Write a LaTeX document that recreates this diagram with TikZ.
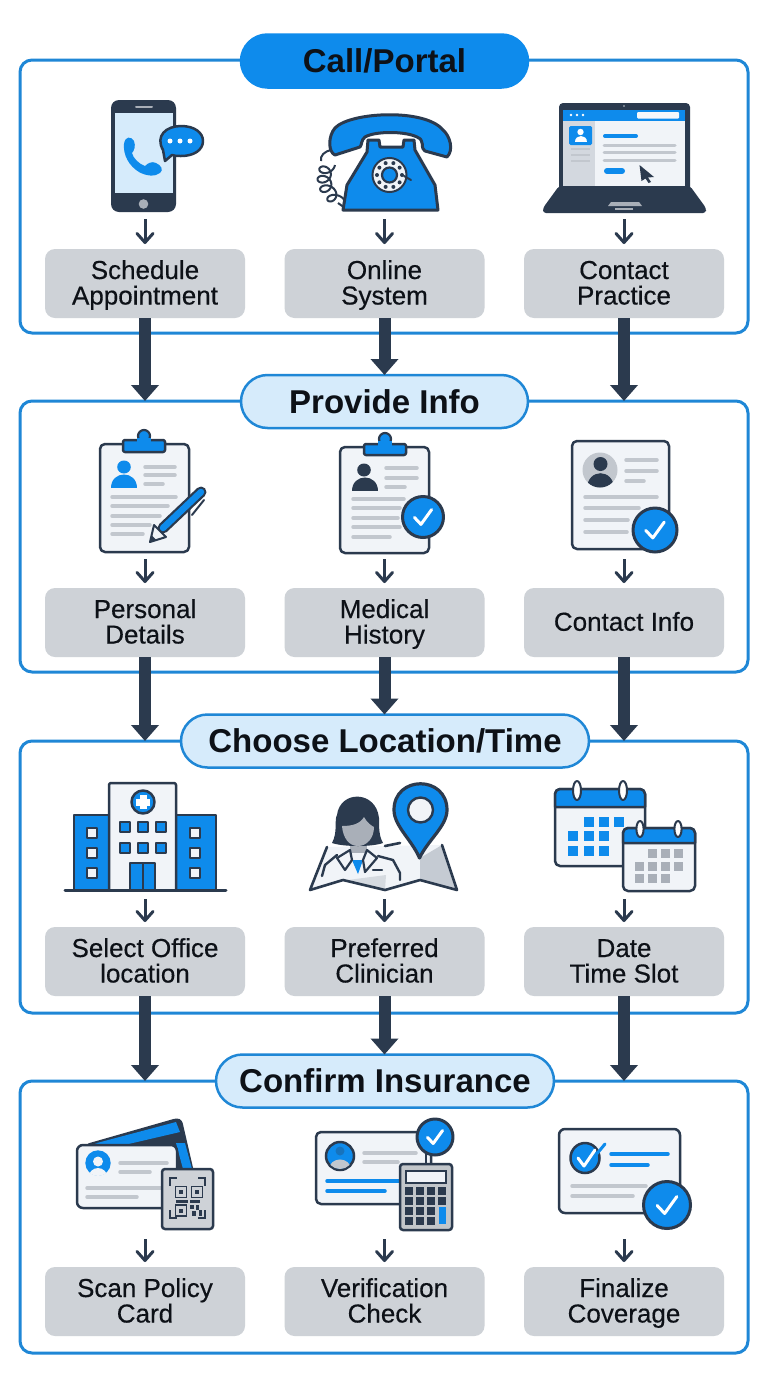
\documentclass[tikz,border=0pt]{standalone}
\usepackage{fontspec}
\setmainfont{Liberation Sans}
\newfontfamily\labf[FakeBold=0.4]{Liberation Sans}
\usetikzlibrary{arrows.meta}
\definecolor{dark}{HTML}{2B3A4E}
\definecolor{mblue}{HTML}{0E8BEC}
\definecolor{frameb}{HTML}{1F87D6}
\definecolor{pale}{HTML}{D6EBFB}
\definecolor{paper}{HTML}{F1F4F8}
\definecolor{gbox}{HTML}{CED2D7}
\definecolor{gline}{HTML}{C2C7CE}
\definecolor{ink}{HTML}{0D1117}
\definecolor{fgrey}{HTML}{A9AFB8}
\tikzset{
 panel/.style={draw=frameb,line width=3pt,rounded corners=12pt,inner sep=0pt,outer sep=0pt,fill=white},
 pill/.style={draw=frameb,line width=2.5pt,rounded corners=26.5pt,inner sep=0pt,outer sep=0pt,minimum height=53pt,fill=pale,text=ink,font=\fontsize{33}{36}\selectfont\bfseries},
 pillon/.style={pill,fill=mblue,draw=mblue},
 lab/.style={fill=gbox,rounded corners=10pt,inner sep=0pt,outer sep=0pt,minimum width=200pt,minimum height=69pt,text=ink,align=center,font=\labf\fontsize{26}{25.5}\selectfont},
 big/.style={draw=dark,line width=12pt,-{Triangle[width=27pt,length=16pt]}},
 small/.style={draw=dark,line width=3pt,-{Straight Barb[width=16pt,length=9pt,round]},shorten >=5pt},
 glin/.style={draw=gline,line width=3.5pt,line cap=round},
 blin/.style={draw=mblue,line width=3.5pt,line cap=round},
 ic/.style={draw=dark,line width=2.5pt,line join=round},
}
\newcommand\lbl[1]{\rule[-1.5pt]{0pt}{19.5pt}\smash{#1}}
\newcommand\gl[3]{\draw[glin] (#1,#3) -- (#2,#3);}
\newcommand\bl[3]{\draw[blin] (#1,#3) -- (#2,#3);}
\newcommand\badge[3]{\draw[ic,line width=3pt,fill=mblue] (#1,#2) circle[radius=#3];
 \draw[white,line width=3pt,line cap=round,line join=round] ({#1-.42*#3},{#2+.02*#3}) -- ({#1-.1*#3},{#2+.36*#3}) -- ({#1+.42*#3},{#2-.36*#3});}
% person: colour, cx, head y, head r, body half width, body top, body bottom
\newcommand\persn[7]{\fill[#1] (#2,#3) circle[radius=#4];
 \fill[#1] ({#2-#5},#7) .. controls ({#2-#5},#6) and ({#2+#5},#6) .. ({#2+#5},#7) -- cycle;}
\newcommand\sq[4]{\fill[#1] ({#2-#4/2},{#3-#4/2}) rectangle ({#2+#4/2},{#3+#4/2});}
\newcommand\bsq[4]{\draw[ic,line width=2pt,fill=#1] ({#2-#4/2},{#3-#4/2}) rectangle ({#2+#4/2},{#3+#4/2});}
\begin{document}
\begin{tikzpicture}[x=1pt,y=-1pt]
\useasboundingbox (0,0) rectangle (768,1376);
\fill[white] (0,0) rectangle (768,1376);
% panels
\node[panel,minimum width=728pt,minimum height=273pt] (p1) at (384,196.5) {};
\node[panel,minimum width=728pt,minimum height=271pt] (p2) at (384,536.5) {};
\node[panel,minimum width=728pt,minimum height=272pt] (p3) at (384,877) {};
\node[panel,minimum width=728pt,minimum height=272pt] (p4) at (384,1217) {};
% titles
\node[pillon,minimum width=287pt] (t1) at (384.5,61) {Call/Portal};
\node[pill,minimum width=287pt] (t2) at (384.5,401.5) {Provide Info};
\node[pill,minimum width=408pt] (t3) at (385,741) {Choose Location/Time};
\node[pill,minimum width=338pt] (t4) at (385,1081) {Confirm Insurance};
% labels
\node[lab] (b11) at (145,283.5) {\lbl{Schedule}\\\lbl{Appointment}};
\node[lab] (b12) at (384.5,283.5) {\lbl{Online}\\\lbl{System}};
\node[lab] (b13) at (624,283.5) {\lbl{Contact}\\\lbl{Practice}};
\node[lab] (b21) at (145,622.5) {\lbl{Personal}\\\lbl{Details}};
\node[lab] (b22) at (384.5,622.5) {\lbl{Medical}\\\lbl{History}};
\node[lab] (b23) at (624,622.5) {\lbl{Contact Info}};
\node[lab] (b31) at (145,961.5) {\lbl{Select Office}\\\lbl{location}};
\node[lab] (b32) at (384.5,961.5) {\lbl{Preferred}\\\lbl{Clinician}};
\node[lab] (b33) at (624,961.5) {\lbl{Date}\\\lbl{Time Slot}};
\node[lab] (b41) at (145,1301.5) {\lbl{Scan Policy}\\\lbl{Card}};
\node[lab] (b42) at (384.5,1301.5) {\lbl{Verification}\\\lbl{Check}};
\node[lab] (b43) at (624,1301.5) {\lbl{Finalize}\\\lbl{Coverage}};
% icon anchor points
\foreach \r/\y in {1/219,2/559,3/899,4/1239}{
 \coordinate (i\r1) at (145,\y); \coordinate (i\r2) at (384.5,\y); \coordinate (i\r3) at (624,\y);
 \draw[small] (i\r1) -- (b\r1.north); \draw[small] (i\r2) -- (b\r2.north); \draw[small] (i\r3) -- (b\r3.north);
}
% big connectors
\foreach \a/\b in {1/2,2/3,3/4}{
 \draw[big] (b\a1.south) -- (b\a1.south |- p\b.north);
 \draw[big] (b\a2.south) -- (b\a2.south |- t\b.north);
 \draw[big] (b\a3.south) -- (b\a3.south |- p\b.north);
}
% ---------- phone
\fill[dark,rounded corners=8pt] (111,100) rectangle (176,212);
\fill[pale] (115,113) rectangle (172.5,193);
\draw[fgrey,line width=2pt,line cap=round] (136,107) -- (152,107);
\fill[fgrey] (143.5,204) circle[radius=4.8];
\fill[mblue] (124,144) .. controls (125,136) and (131,136) .. (134,141) .. controls (136,146) and (134,151) .. (132,153) .. controls (133,158) and (139,164) .. (145,166) .. controls (148,163) and (152,161) .. (156,163) .. controls (161,165) and (164,170) .. (160,173) .. controls (155,177) and (146,176) .. (139,172) .. controls (129,166) and (123,155) .. (124,144) -- cycle;
\draw[ic,fill=mblue] (163,150) .. controls (155,136) and (166,126) .. (181,126) .. controls (195,126) and (203,133) .. (203,141) .. controls (203,150) and (194,156) .. (181,156) .. controls (177,156) and (174,156) .. (172,155) -- (165,161) -- cycle;
\foreach \x in {170,180,190}{\fill[white] (\x,141) circle[radius=2.5];}
% ---------- telephone
\draw[dark,line width=2pt] plot[domain=0:1440,samples=161,smooth] ({324+36*((\x/1440-.35)*(\x/1440-.35))+6.5*cos(\x)},{165+\x/38+5.5*sin(\x)});
\draw[dark,line width=2pt] (332,150) .. controls (324,151) and (320,156) .. (321,161);
\draw[dark,line width=2pt] (338,203) -- (345,208);
\draw[ic,line width=3pt,fill=mblue] (368,140) -- (379,140) -- (380,147) -- (403,147) -- (404,140) -- (414,140) -- (415,150) -- (435,185) -- (438,210) -- (343,210) -- (347,185) -- (367,152) -- cycle;
\draw[ic,line width=3pt,fill=mblue] (335,155) .. controls (328,152) and (328,136) .. (335,128) .. controls (350,112) and (425,108) .. (443,130) .. controls (450,136) and (454,150) .. (447,157) -- (425,151) .. controls (421,148) and (423,144) .. (422,143) .. controls (421,139) and (420,138) .. (417,137) .. controls (405,131) and (375,131) .. (365,137) .. controls (361,140) and (362,145) .. (360,147) -- cycle;
\draw[dark,line width=2pt,fill=paper] (389.5,175) circle[radius=17];
\foreach \a in {0,36,...,324}{\fill[dark] ({389.5+12.5*cos(\a)},{175+12.5*sin(\a)}) circle[radius=2];}
\draw[dark,line width=2.2pt,fill=mblue] (389.5,175) circle[radius=7.5];
\draw[dark,line width=2pt,line cap=round] (404,176) -- (411,180);
% ---------- laptop
\fill[dark,rounded corners=4pt] (559,103) rectangle (690,195);
\fill[paper] (563,110) rectangle (685,186);
\fill[mblue] (563,110) rectangle (685,121);
\foreach \x in {571,577,583}{\fill[white] (\x,115) circle[radius=1.4];}
\fill[paper!70!white,rounded corners=1pt] (637,112) rectangle (679,118.5);
\fill[dark!15!paper] (563,121) rectangle (595,186);
\fill[mblue,rounded corners=1.5pt] (569,126) rectangle (592,145);
\persn{white}{580.5}{132}{3.2}{6}{134}{142}
\foreach \y in {149,155,161}{\draw[gline,line width=2.5pt] (571,\y) -- (590,\y);}
\draw[mblue,line width=4pt,line cap=round] (605,136) -- (636,136);
\foreach \y in {145,152,160}{\draw[gline,line width=3pt,line cap=round] (604,\y) -- (675,\y);}
\draw[mblue,line width=6pt,line cap=round] (607,171) -- (622,171);
\fill[dark] (639.5,165) -- (654,177) -- (648,177.5) -- (651,182) -- (648.5,183) -- (645.5,178.5) -- (641.5,181) -- cycle;
\fill[dark,rounded corners=3pt] (559,186) -- (690,186) -- (706,208) -- (706,213) -- (543,213) -- (543,208) -- cycle;
\fill[fgrey] (611,202) -- (639,202) -- (642,206) -- (608,206) -- cycle;
\draw[fgrey,line width=1.2pt] (615,209) -- (633,209);
\fill[gline] (624,106) circle[radius=.9];
% ---------- clipboard 1
\draw[ic,fill=paper,rounded corners=5pt] (100,444) rectangle (189,552);
\fill[mblue,draw=dark,line width=2.2pt] (144,436) circle[radius=6];
\draw[ic,fill=mblue,rounded corners=2pt] (123,440) rectangle (165,452);
\fill[mblue] (137,438) rectangle (151,443);
\fill[mblue] (124,467) ellipse[x radius=6.8,y radius=6.5];
\fill[mblue] (111,488) .. controls (111,470) and (137,470) .. (137,488) -- cycle;
\gl{145}{175}{467} \gl{145}{175}{475} \gl{145}{163}{484}
\gl{112}{176}{497} \gl{112}{168}{506} \gl{112}{160}{516} \gl{112}{150}{525} \gl{112}{143}{534}
\draw[dark,line width=11pt,line cap=round] (163,528) -- (201,492);
\draw[mblue,line width=6.5pt,line cap=round] (163,528) -- (201,492);
\draw[ic,line width=2pt,fill=paper] (150,542) -- (154,525) -- (166,537) -- cycle;
\fill[dark] (150,542) -- (151.5,535) -- (156.5,540) -- cycle;
\draw[dark,line width=2pt,line cap=round] (204,500) -- (192,515);
% ---------- clipboard 2
\draw[ic,fill=paper,rounded corners=5pt] (340,447) rectangle (429,553);
\fill[mblue,draw=dark,line width=2.2pt] (385,439) circle[radius=6];
\draw[ic,fill=mblue,rounded corners=2pt] (364,444) rectangle (406,455);
\fill[mblue] (378,441) rectangle (392,446);
\fill[dark] (364,470) ellipse[x radius=6.8,y radius=6.5];
\fill[dark] (352,491) .. controls (352,473) and (378,473) .. (378,491) -- cycle;
\gl{386}{417}{468} \gl{386}{417}{478} \gl{386}{405}{487}
\gl{353}{404}{499} \gl{353}{400}{508} \gl{353}{398}{518} \gl{353}{400}{527} \gl{353}{390}{537}
\badge{423}{517}{20.5}
% ---------- doc 3
\draw[ic,fill=paper,rounded corners=5pt] (572,441) rectangle (669,549);
\fill[gline] (600,470) circle[radius=17.5];
\begin{scope}
\clip (600,470) circle[radius=17.5];
\fill[dark] (600.5,464) circle[radius=7];
\fill[dark] (587,489) .. controls (587,468) and (614,468) .. (614,489) -- cycle;
\end{scope}
\gl{626}{657}{460} \gl{626}{657}{471} \gl{626}{644}{481}
\gl{585}{657}{497} \gl{585}{639}{508} \gl{585}{628}{520} \gl{585}{627}{532}
\badge{655}{530}{22}
% ---------- hospital
\draw[ic,fill=mblue] (74,890) rectangle (110,815);
\draw[ic,fill=mblue] (175,890) rectangle (216,815);
\draw[ic,fill=paper,rounded corners=2pt] (109,890) -- (109,783) -- (176,783) -- (176,890);
\draw[ic,fill=mblue] (143,802) circle[radius=11.5];
\fill[white] (139.5,795) rectangle (146.5,809); \fill[white] (136,798.5) rectangle (150,805.5);
\foreach \x in {124.5,142.5,160.5}{\foreach \y in {827,848}{\bsq{mblue}{\x}{\y}{10}}}
\foreach \x in {92,195}{\foreach \y in {833,853,873}{\bsq{paper}{\x}{\y}{10}}}
\draw[ic,fill=mblue] (130,890) rectangle (155,863);
\draw[dark,line width=2pt] (142.5,863) -- (142.5,890);
\draw[dark,line width=3pt,line cap=round] (65,890) -- (226,890);
% ---------- clinician + map
\fill[paper] (310,890) -- (327,847) -- (442,845) -- (457,890) -- (420,880) -- (385,890) -- (343,880) -- cycle;
\fill[dark!22!paper] (420,858) -- (442,845) -- (457,890) -- (420,880) -- cycle;
\fill[dark!14!paper] (348,880) -- (386,875) -- (385,890) -- cycle;
\draw[ic,line width=2.6pt,line cap=round] (327,847) -- (310,890) -- (343,880) -- (385,890) -- (420,880) -- (457,890) -- (442,845);
\draw[dark,line width=2.6pt,line cap=round] (385,846) -- (400,843);
\draw[dark,line width=2.4pt,line join=round,line cap=round] (322,876) -- (325,865) -- (337,855);
\draw[dark,line width=2.4pt,line join=round,line cap=round] (378,856) -- (393,860) -- (400,873) -- (400,880);
\fill[fgrey] (350,842) rectangle (367,853);
\fill[mblue] (352,860) -- (363,860) -- (358,874) -- cycle;
\draw[dark,line width=2.2pt,line join=round,fill=paper] (350,850) -- (337,858) -- (345,870) -- (352,860) -- cycle;
\draw[dark,line width=2.2pt,line join=round,fill=paper] (367,850) -- (377,858) -- (365,872) -- (363,860) -- cycle;
\fill[dark] (332,843) .. controls (338,832) and (334,820) .. (337,815) .. controls (340,790) and (376,790) .. (379,818) .. controls (379,828) and (379,836) .. (383,843) .. controls (372,847) and (344,847) .. (332,843) -- cycle;
\fill[fgrey] (358,846) .. controls (349,846) and (343,838) .. (342,826) .. controls (352,826) and (360,824) .. (364,817) .. controls (367,823) and (372,826) .. (374,827) .. controls (374,838) and (367,846) .. (358,846) -- cycle;
\draw[dark,line width=2.2pt,line cap=round] (373,870) -- (382,870);
\draw[ic,line width=3.2pt,fill=mblue] (419.5,858) .. controls (412,840) and (394,826) .. (394,810) .. controls (394,775) and (447,775) .. (447,810) .. controls (447,826) and (428,840) .. (419.5,858) -- cycle;
\draw[dark,line width=2.4pt,fill=paper] (420.5,810) circle[radius=12.5];
% ---------- calendars
\draw[ic,fill=paper,rounded corners=5pt] (555,789) rectangle (645,866);
\draw[ic,fill=mblue] (555,807) -- (555,794) [rounded corners=5pt] -- (555,789) -- (645,789) [sharp corners] -- (645,807) -- cycle;
\foreach \x in {577,623}{\draw[ic,line width=2pt,fill=white] (\x,790.5) ellipse[x radius=4,y radius=9.5];}
\foreach \x/\y in {589/822,604/822,619/822,573/836,589/836,604/836,573/851,589/851,604/851}{\sq{mblue}{\x}{\y}{10.5}}
\draw[ic,fill=paper,rounded corners=5pt] (623,828) rectangle (695,891);
\draw[ic,fill=mblue] (623,843) -- (623,833) [rounded corners=5pt] -- (623,828) -- (695,828) [sharp corners] -- (695,843) -- cycle;
\foreach \x in {640,678}{\draw[ic,line width=2pt,fill=white] (\x,829) ellipse[x radius=3.6,y radius=8];}
\foreach \x/\y in {652/853,665/853,678/853,639/866,652/866,665/866,678/866,639/878,652/878,665/878}{\sq{fgrey}{\x}{\y}{9}}
% ---------- insurance cards + QR
\fill[dark,rounded corners=3pt] (86,1144) -- (177,1118) -- (182,1120) -- (194,1172) -- (150,1175) -- cycle;
\fill[mblue] (95,1143.5) -- (176,1122) -- (180,1132) -- (120,1146) -- cycle;
\fill[mblue] (176,1143) -- (185,1143) -- (192,1169) -- (183,1169) -- cycle;
\draw[ic,fill=paper,rounded corners=6pt] (77,1145) rectangle (177,1208);
\fill[mblue] (98,1163) circle[radius=12.7];
\begin{scope}
\clip (98,1163) circle[radius=13];
\persn{paper}{98}{1161.5}{5}{10}{1164}{1180}
\end{scope}
\gl{120}{167}{1163} \gl{120}{150}{1172} \gl{87}{161}{1188} \gl{87}{137}{1197}
\draw[ic,fill=gbox,rounded corners=3pt] (162,1169) rectangle (213,1229);
\begin{scope}[dark,line width=1.6pt]
\draw (170,1186) -- (170,1178) -- (177,1178);
\draw (198,1178) -- (205,1178) -- (205,1186);
\draw (170,1210) -- (170,1218) -- (177,1218);
\draw (198,1218) -- (205,1218) -- (205,1210);
\draw (175.5,1186.5) rectangle (186.5,1197.5);
\draw (191.5,1186.5) rectangle (202.5,1197.5);
\draw (175.5,1205) rectangle (186.5,1216);
\fill (179,1190) rectangle (183,1194);
\fill (195,1190) rectangle (199,1194);
\fill (179,1208.5) rectangle (183,1212.5);
\fill (176,1200) rectangle (188,1202.5); \fill (190,1200) rectangle (200,1202.5);
\fill (190,1205) rectangle (194,1209); \fill (196,1205) rectangle (199,1210);
\fill (192,1211) rectangle (196,1216); \fill (199,1210) rectangle (202,1216);
\end{scope}
% ---------- card + calculator
\draw[ic,fill=paper,rounded corners=5pt] (316,1132) rectangle (431,1204);
\draw[dark,line width=2.5pt,fill=mblue] (340,1156) circle[radius=14];
\begin{scope}
\clip (340,1156) circle[radius=13];
\fill[gline] (329,1170) .. controls (329,1156) and (351,1156) .. (351,1170) -- cycle;
\end{scope}
\fill[mblue!70!dark] (340,1151) circle[radius=4.5];
\gl{364}{416}{1153} \gl{364}{398}{1162}
\bl{327}{402}{1181} \bl{327}{385}{1191}
\draw[dark,line width=2.5pt] (426,1148) -- (426,1166);
\badge{435}{1137}{18}
\draw[ic,fill=gbox!85!gray,rounded corners=3pt] (400,1164) rectangle (452,1230);
\draw[dark,line width=2pt,fill=paper] (406,1171) rectangle (446,1183);
\foreach \x in {409,420,431}{\foreach \y in {1191,1201,1211,1221}{\sq{dark}{\x}{\y}{7.5}}}
\foreach \y in {1191,1201}{\sq{dark}{442}{\y}{7.5}}
\fill[mblue] (438.5,1207) rectangle (446,1224);
% ---------- finalize card
\draw[ic,fill=paper,rounded corners=6pt] (559,1129) rectangle (680,1213);
\draw[dark,line width=2.5pt,fill=mblue] (585,1158) ellipse[x radius=14.5,y radius=15];
\draw[mblue,line width=3pt,line cap=round] (595,1156) -- (605,1144);
\draw[white,line width=3pt,line cap=round,line join=round] (578,1158) -- (584,1166) -- (595,1150);
\bl{611}{668}{1154} \bl{611}{648}{1165}
\gl{572}{646}{1186} \gl{572}{633}{1196}
\badge{667}{1205}{23.5}
\end{tikzpicture}
\end{document}
